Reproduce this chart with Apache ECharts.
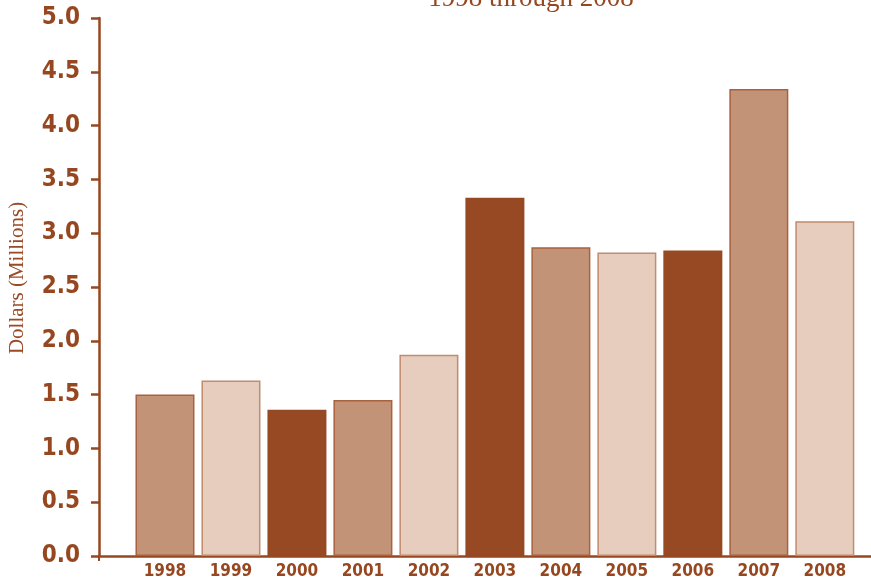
<!DOCTYPE html>
<html>
<head>
<meta charset="utf-8">
<script src="https://cdn.jsdelivr.net/npm/echarts@6/dist/echarts.min.js"></script>
<style>
  html, body { margin: 0; padding: 0; background: #fff; }
  #chart { width: 871px; height: 585px; }
</style>
</head>
<body>
<div id="chart"></div>
<script>
// Annual totals, 1998 through 2008
const years = [1998, 1999, 2000, 2001, 2002, 2003, 2004, 2005, 2006, 2007, 2008];
const dollarsMillions = [1.50, 1.63, 1.36, 1.45, 1.87, 3.33, 2.87, 2.82, 2.84, 4.34, 3.11];
const yTicks = [0, 0.5, 1, 1.5, 2, 2.5, 3, 3.5, 4, 4.5, 5];

const AXIS = '#96471f';
const LABEL_FONT = '"Liberation Sans Narrow", "DejaVu Sans Condensed", "DejaVu Sans", sans-serif';
// Fill / border cycle: medium, light, dark
const palette = [
  { fill: '#c29377', border: '#a9613f' },
  { fill: '#e6cdbd', border: '#c28b6d' },
  { fill: '#964922', border: '#964922' }
];

const barData = years.map((y, i) => {
  const p = palette[i % 3];
  return {
    value: [y, dollarsMillions[i]],
    itemStyle: { color: p.fill, borderColor: p.border, borderWidth: 1.5 }
  };
});

const chart = echarts.init(document.getElementById('chart'));
chart.setOption({
  animation: false,
  title: {
    text: '1998 through 2008',
    left: 526,
    textAlign: 'center',
    top: -20,
    textStyle: { fontFamily: 'Liberation Serif, serif', fontWeight: 'normal', fontSize: 27, color: AXIS }
  },
  grid: { left: 99, right: 0, top: 18, bottom: 29, outerBoundsMode: 'none', containLabel: false },
  xAxis: {
    type: 'value',
    min: 1997,
    max: 2008.7,
    interval: 1,
    splitLine: { show: false },
    axisLine: { show: true, lineStyle: { color: AXIS, width: 2.5 } },
    axisTick: { show: true, customValues: [1997], length: 5, lineStyle: { color: AXIS, width: 2 } },
    axisLabel: {
      customValues: years,
      color: AXIS,
      fontFamily: LABEL_FONT,
      fontWeight: 'bold condensed',
      fontSize: 17,
      margin: 7,
      formatter: v => String(v)
    }
  },
  yAxis: {
    type: 'value',
    min: 0,
    max: 5,
    interval: 0.5,
    name: 'Dollars (Millions)',
    nameLocation: 'middle',
    nameGap: 71,
    nameTextStyle: { fontFamily: 'Liberation Serif, serif', fontSize: 21, color: '#9b4a26', padding: [0, 0, 0, 18] },
    splitLine: { show: false },
    axisLine: { show: true, lineStyle: { color: AXIS, width: 2.5 } },
    axisTick: { show: true, length: 8, lineStyle: { color: AXIS, width: 2.5 } },
    axisLabel: {
      color: AXIS,
      fontFamily: LABEL_FONT,
      fontWeight: 'bold condensed',
      fontSize: 24,
      margin: 19,
      formatter: v => yTicks.includes(v) ? v.toFixed(1) : ''
    }
  },
  series: [{
    type: 'bar',
    barWidth: 59,
    data: barData
  }]
});
</script>
</body>
</html>
